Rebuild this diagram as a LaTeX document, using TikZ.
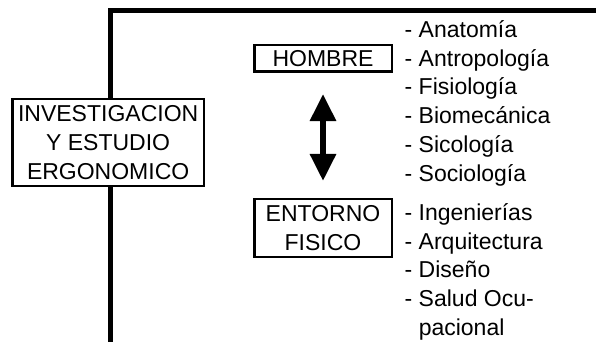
\documentclass[tikz,border=0pt]{standalone}
\usepackage{fontspec}
\setmainfont{Liberation Sans}
\usetikzlibrary{arrows.meta}
\begin{document}
\begin{tikzpicture}[x=1pt,y=-1pt,
  bigline/.style={line width=4.7pt, line join=miter},
  boxnode/.style={draw, line width=2.5pt, fill=white, align=center, inner sep=0pt, font=\fontsize{23}{29}\selectfont},
  item/.style={anchor=base west, inner sep=0pt, font=\fontsize{23}{28.7}\selectfont},
  dblarrow/.style={line width=6pt, {Triangle[length=27pt,width=25pt]}-{Triangle[length=27pt,width=25pt]}}]
\useasboundingbox (0,0) rectangle (596,342);
\coordinate (bot) at (110.2,342);
\coordinate (right) at (596,10.3);
\draw[bigline] (bot) |- (right);
\node[boxnode, minimum width=191.2pt, minimum height=87.1pt] (main) at (108.15,142.5) {INVESTIGACION\\Y ESTUDIO\\ERGONOMICO};
\node[boxnode, minimum width=137.5pt, minimum height=26.5pt] (hombre) at (323,58.5) {HOMBRE};
\node[boxnode, minimum width=137.5pt, minimum height=58pt] (entorno) at (323,228.2) {ENTORNO\\FISICO};
\draw[dblarrow, shorten <=21pt, shorten >=17pt] (hombre) -- (entorno);
\node[item] (l1) at (404.5,37.5) {- Anatomía};
\node[item] (l2) at (404.5,66.2) {- Antropología};
\node[item] (l3) at (404.5,94.9) {- Fisiología};
\node[item] (l4) at (404.5,123.6) {- Biomecánica};
\node[item] (l5) at (404.5,152.3) {- Sicología};
\node[item] (l6) at (404.5,181.0) {- Sociología};
\node[item] (m1) at (404.5,220.5) {- Ingenierías};
\node[item] (m2) at (404.5,249.2) {- Arquitectura};
\node[item] (m3) at (404.5,277.9) {- Diseño};
\node[item] (m4) at (404.5,306.6) {- Salud Ocu-};
\node[item] (m5) at (404.5,335.3) {\phantom{- }pacional};
\end{tikzpicture}
\end{document}
